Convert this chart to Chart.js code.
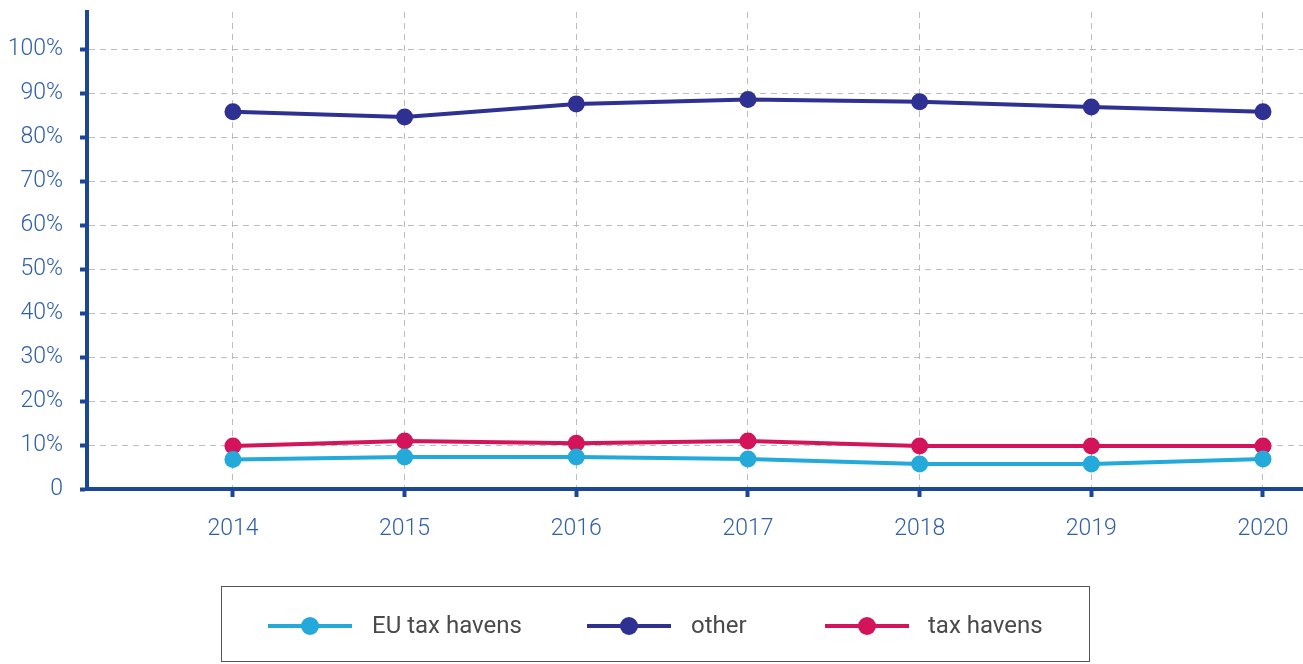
<!DOCTYPE html>
<html>
<head>
<meta charset="utf-8">
<script src="https://cdn.jsdelivr.net/npm/chart.js@4.4.1/dist/chart.umd.min.js"></script>
<style>
  html, body { margin: 0; padding: 0; background: #fff; }
  #wrap { position: relative; width: 1303px; height: 664px; }
  #legend { position: absolute; left: 221px; top: 586px; width: 867px; height: 74px;
            border: 1px solid #555; box-sizing: content-box; font-family: Roboto, sans-serif;
            font-size: 24px; color: #4a4a4a; }
  .seg { position: absolute; top: 37px; height: 4px; width: 84px; }
  .dot { position: absolute; top: 30px; width: 18px; height: 18px; border-radius: 50%; }
  .lbl { position: absolute; top: 24px; white-space: nowrap; line-height: 28px; }
</style>
</head>
<body>
<div id="wrap">
  <canvas id="c" width="1303" height="664"></canvas>
  <div id="legend"></div>
</div>
<script>
const years = [2014, 2015, 2016, 2017, 2018, 2019, 2020];
const yearLabels = ['2014', '2015', '2016', '2017', '2018', '2019', '2020'];
const euTaxHavens = [6.7, 7.3, 7.3, 6.8, 5.7, 5.7, 6.8];
const other = [85.8, 84.6, 87.6, 88.6, 88.1, 86.9, 85.8];
const taxHavens = [9.8, 10.9, 10.4, 10.9, 9.8, 9.8, 9.8];
const yTickValues = [0, 10, 20, 30, 40, 50, 60, 70, 80, 90, 100];
const yTickLabels = ['0', '10%', '20%', '30%', '40%', '50%', '60%', '70%', '80%', '90%', '100%'];
const seriesNames = ['EU tax havens', 'other', 'tax havens'];
const seriesColors = ['#23aadb', '#2e3192', '#d4145a'];

const axisColor = '#1b4797';
const tickTextColor = '#3060a8';
const gridColor = '#bdbdbd';

function pts(vals) { return years.map((y, i) => ({ x: y, y: vals[i] })); }

const seriesValues = [euTaxHavens, other, taxHavens];
const datasets = seriesNames.map((name, i) => ({
  label: name,
  data: pts(seriesValues[i]),
  borderColor: seriesColors[i],
  backgroundColor: seriesColors[i],
  borderWidth: 4,
  pointRadius: 8.5,
  pointHoverRadius: 8.5,
  pointBorderWidth: 0,
  pointBackgroundColor: seriesColors[i],
  tension: 0,
  clip: false
}));

new Chart(document.getElementById('c'), {
  type: 'line',
  data: { datasets },
  options: {
    responsive: false,
    animation: false,
    events: [],
    layout: { autoPadding: false, padding: { top: 12, left: 0, right: 0, bottom: 0 } },
    plugins: { legend: { display: false }, tooltip: { enabled: false } },
    scales: {
      x: {
        type: 'linear',
        min: 2013.15,
        max: 2020.233,
        afterBuildTicks: (s) => { s.ticks = years.map(v => ({ value: v })); },
        afterFit: (s) => { s.height = 175; s.paddingLeft = 0; s.paddingRight = 0; },
        ticks: {
          callback: (v) => yearLabels[years.indexOf(v)],
          color: tickTextColor,
          font: { family: 'Roboto', size: 23, weight: '300' },
          padding: 18,
          maxRotation: 0,
          autoSkip: false
        },
        grid: {
          color: gridColor,
          lineWidth: 1,
          drawTicks: true,
          tickLength: 8,
          tickColor: axisColor,
          tickWidth: 4,
          tickBorderDash: []
        },
        border: { display: true, color: axisColor, width: 4, dash: [6, 5] }
      },
      y: {
        type: 'linear',
        min: 0,
        max: 108.5,
        afterBuildTicks: (s) => { s.ticks = yTickValues.map(v => ({ value: v })); },
        afterFit: (s) => { s.width = 87; s.paddingTop = 0; s.paddingBottom = 0; },
        ticks: {
          callback: (v) => yTickLabels[yTickValues.indexOf(v)],
          color: tickTextColor,
          font: { family: 'Roboto', size: 23, weight: '300' },
          padding: 17
        },
        grid: {
          color: gridColor,
          lineWidth: 1,
          drawTicks: true,
          tickLength: 7,
          tickColor: axisColor,
          tickWidth: 4,
          tickBorderDash: []
        },
        border: { display: true, color: axisColor, width: 4, dash: [6, 5] }
      }
    }
  }
});

// HTML legend
const legend = document.getElementById('legend');
const segLeft = [46, 365, 603];
const lblLeft = [150, 469, 706];
seriesNames.forEach((name, i) => {
  const seg = document.createElement('div');
  seg.className = 'seg';
  seg.style.left = segLeft[i] + 'px';
  seg.style.background = seriesColors[i];
  legend.appendChild(seg);
  const dot = document.createElement('div');
  dot.className = 'dot';
  dot.style.left = (segLeft[i] + 33) + 'px';
  dot.style.background = seriesColors[i];
  legend.appendChild(dot);
  const lbl = document.createElement('div');
  lbl.className = 'lbl';
  lbl.style.left = lblLeft[i] + 'px';
  lbl.textContent = name;
  legend.appendChild(lbl);
});
</script>
</body>
</html>
